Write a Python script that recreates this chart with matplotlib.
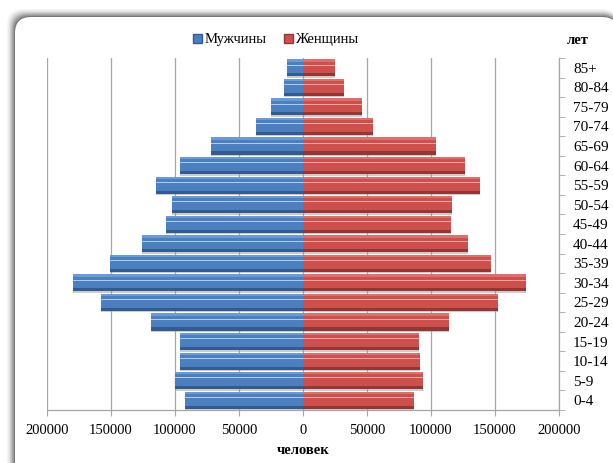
import matplotlib
matplotlib.use("Agg")
import matplotlib.pyplot as plt
from matplotlib.patches import FancyBboxPatch, Patch
from matplotlib.ticker import FuncFormatter, FixedLocator
import numpy as np

plt.rcParams['font.family'] = ['Liberation Serif', 'DejaVu Serif']

age_groups = ["0-4", "5-9", "10-14", "15-19", "20-24", "25-29", "30-34", "35-39",
              "40-44", "45-49", "50-54", "55-59", "60-64", "65-69", "70-74",
              "75-79", "80-84", "85+"]
men = [91900, 99700, 96300, 95800, 119000, 157500, 179700, 151000,
       125500, 107300, 102300, 114500, 96300, 72100, 36400, 24700, 15000, 12200]
women = [86500, 93500, 91200, 90400, 114400, 152300, 174500, 147200,
         128900, 115600, 116700, 138000, 126600, 103700, 55000, 46400, 31800, 25300]
x_ticks = [-200000, -150000, -100000, -50000, 0, 50000, 100000, 150000, 200000]
legend_labels = ["Мужчины", "Женщины"]
y_unit = "лет"
x_unit = "человек"

W, H = 613, 463
fig = plt.figure(figsize=(W / 100, H / 100), dpi=100)
fig.patch.set_facecolor("white")

def fx(px):
    return px / W
def fy(py):
    return 1 - py / H

# background frame axes in pixel coordinates
bg = fig.add_axes([0, 0, 1, 1], zorder=-5)
bg.set_xlim(0, W)
bg.set_ylim(H, 0)
bg.axis("off")
for i, a in enumerate([0.05, 0.08, 0.12, 0.18, 0.26, 0.36]):
    off = 8 - i * 1.4
    bg.add_patch(FancyBboxPatch((15 - off, 17 - off), 603 + off, 480,
                                boxstyle="round,pad=0,rounding_size=16",
                                facecolor=(0.25, 0.25, 0.25, a), edgecolor="none"))
bg.add_patch(FancyBboxPatch((15, 17), 603, 480, boxstyle="round,pad=0,rounding_size=16",
                            facecolor="white", edgecolor="none"))

ax = fig.add_axes([fx(47), fy(410), fx(559) - fx(47), fy(58) - fy(410)], zorder=1)
ax.set_facecolor("none")

y = np.arange(len(age_groups))
h = 0.88
men_neg = -np.array(men)
women_arr = np.array(women)

styles = {
    "m": dict(face="#4b7fbf", top="#6a9bd8", bottom="#325b8f", hl="#a9cdf3"),
    "w": dict(face="#cd504d", top="#de6f6c", bottom="#953634", hl="#f2a3a1"),
}

for vals, st in ((men_neg, styles["m"]), (women_arr, styles["w"])):
    ax.barh(y - 0.07, vals, height=h, color="#9a9a9a", alpha=0.5, zorder=2, linewidth=0)
    ax.barh(y, vals, height=h, color=st["face"], zorder=3, linewidth=0)
    ax.barh(y + h / 2 - 0.06, vals, height=0.12, color=st["top"], zorder=4, linewidth=0)
    ax.barh(y - h / 2 + 0.08, vals, height=0.16, color=st["bottom"], zorder=4, linewidth=0)
    ax.barh(y + 0.14, vals, height=0.05, color=st["hl"], zorder=5, linewidth=0)

ax.set_xlim(-200000, 200000)
ax.set_ylim(-0.5, len(age_groups) - 0.5)

ax.set_xticks(x_ticks)
ax.xaxis.set_major_formatter(FuncFormatter(lambda v, p: f"{int(abs(v))}"))
ax.grid(axis="x", color="#a6a6a6", linewidth=0.9, zorder=1)
ax.set_axisbelow(True)

ax.yaxis.tick_right()
ax.set_yticks(y)
ax.set_yticklabels(age_groups)
ax.yaxis.set_minor_locator(FixedLocator(np.arange(-0.5, len(age_groups), 1)))
ax.tick_params(axis="y", which="major", length=0, pad=10, labelsize=11)
ax.tick_params(axis="y", which="minor", length=4, color="#a6a6a6", direction="out")
ax.tick_params(axis="x", which="major", length=4, color="#a6a6a6", direction="out",
               labelsize=10.5, pad=6)

for s in ("top", "left"):
    ax.spines[s].set_visible(False)
for s in ("right", "bottom"):
    ax.spines[s].set_color("#a6a6a6")
    ax.spines[s].set_linewidth(0.9)

handles = [Patch(facecolor=styles["m"]["face"], edgecolor=styles["m"]["bottom"]),
           Patch(facecolor=styles["w"]["face"], edgecolor=styles["w"]["bottom"])]
fig.legend(handles, legend_labels, loc="center", bbox_to_anchor=(fx(276), fy(40)),
           ncol=2, frameon=False, fontsize=10.5, handlelength=0.6, handleheight=0.6,
           handletextpad=0.2, columnspacing=1.2)

fig.text(fx(578), fy(40), y_unit, ha="center", va="center", fontsize=10.5, fontweight="bold")
fig.text(fx(303), fy(450), x_unit, ha="center", va="center", fontsize=10.5, fontweight="bold")

fig.savefig("out.png", dpi=100)
